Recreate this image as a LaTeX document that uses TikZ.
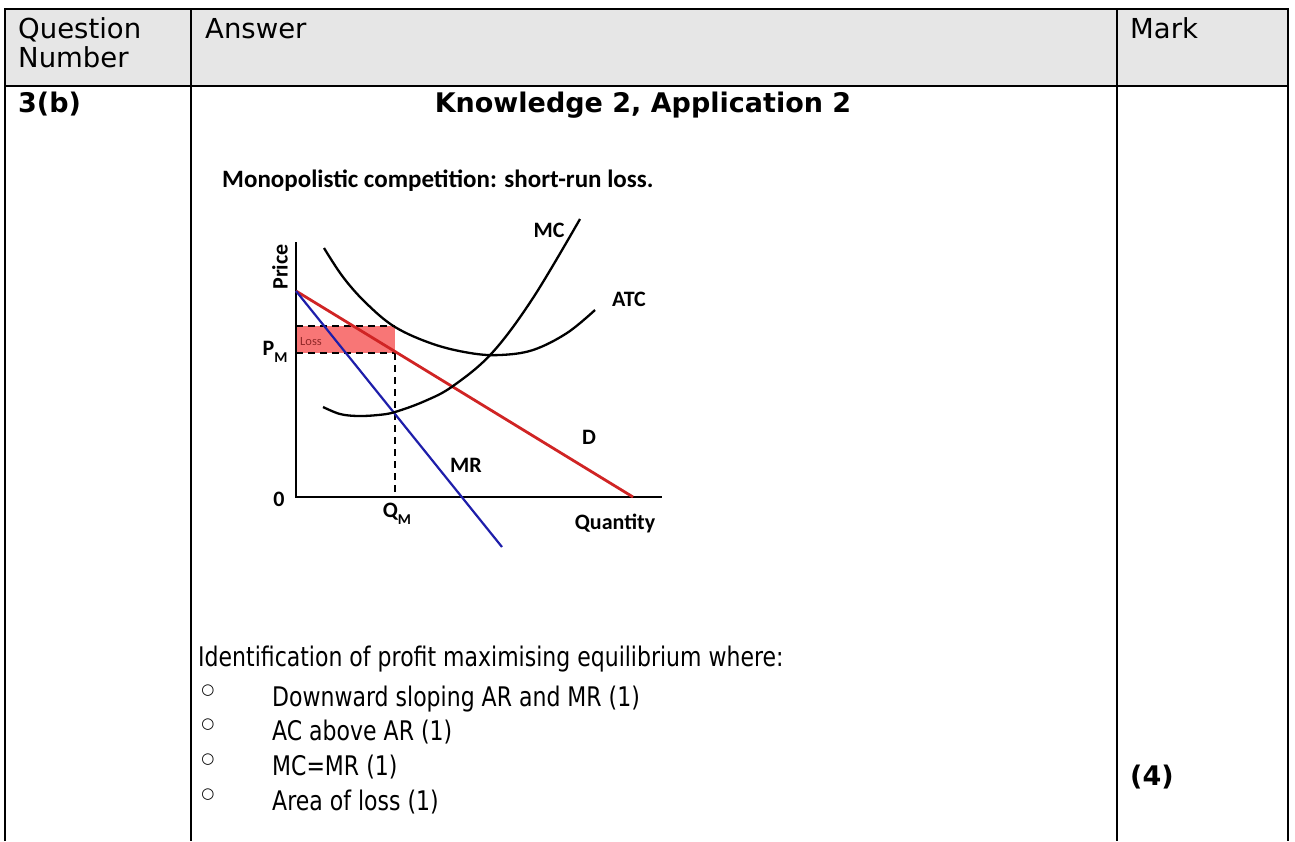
\documentclass[tikz,border=0pt]{standalone}
\usepackage{fontspec}
\setmainfont{DejaVu Sans}
\newfontfamily\bodyfont{DejaVu Sans}[FakeStretch=0.815]
\newfontfamily\chartfont{Carlito}
\definecolor{hdrgray}{RGB}{230,230,230}
\definecolor{dred}{RGB}{208,36,36}
\definecolor{dblue}{RGB}{30,30,170}
\definecolor{lossfill}{RGB}{248,118,118}
\definecolor{losstext}{RGB}{145,40,40}
\begin{document}
\begin{tikzpicture}[x=1pt,y=-1pt,
  tline/.style={line width=2pt},
  hdr/.style={anchor=base west,inner sep=0,font=\fontsize{27.5}{30}\selectfont},
  boldtxt/.style={inner sep=0,font=\fontsize{27}{30}\selectfont\bfseries},
  body/.style={anchor=base west,inner sep=0,font=\bodyfont\fontsize{27}{30}\selectfont},
  bul/.style={inner sep=0,font=\fontsize{15}{15}\selectfont},
  clab/.style={inner sep=0,font=\chartfont\bfseries\fontsize{22}{24}\selectfont},
  curve/.style={line width=2.3pt,black},
  guide/.style={line width=1.7pt,dash pattern=on 7pt off 5pt}]
\useasboundingbox (0,0) rectangle (1295,841);
% table
\fill[hdrgray] (5,9) rectangle (1288,86);
\draw[tline] (5,841) -- (5,9) -- (1288,9) -- (1288,841);
\draw[tline] (5,86) -- (1288,86);
\draw[tline] (191,9) -- (191,841);
\draw[tline] (1117,9) -- (1117,841);
\node[hdr] (q1) at (18,38) {Question};
\node[hdr] (q2) at (18,67) {Number};
\node[hdr] (ans) at (205,38) {Answer};
\node[hdr] (mark) at (1130,38) {Mark};
\node[boldtxt,anchor=base west] (qn) at (18,112) {3(b)};
\node[boldtxt,anchor=base] (kn) at (643,112) {Knowledge 2, Application 2};
% chart title
\node[anchor=base west,inner sep=0,font=\chartfont\bfseries\fontsize{25}{28}\selectfont] (title) at (222,187) {Monopolistic competition: short-run loss.};
% chart
\coordinate (ytop) at (296,242);
\coordinate (orig) at (296,497);
\coordinate (xend) at (662,497);
\coordinate (dstart) at (296,291);
\coordinate (dend) at (633,497);
\coordinate (mrend) at (502,547);
\coordinate (lt) at (296,326);
\coordinate (lb) at (296,353);
\coordinate (rt) at (395,326);
\coordinate (rb) at (395,353);
\coordinate (qm) at (395,497);
\fill[lossfill] (lt) rectangle (rb);
\node[inner sep=0,font=\chartfont\fontsize{12.5}{12.5}\selectfont,text=losstext,anchor=west] (loss) at (300,342) {Loss};
\draw[guide] (lt) -- (rt);
\draw[guide] (lb) -- (rb);
\draw[guide] (rb) -- (qm);
\draw[line width=2pt] (ytop) -- (orig) -- (xend);
\draw[dred,line width=2.8pt] (dstart) -- (dend);
\draw[dblue,line width=2.2pt] (dstart) -- (mrend);
\draw[curve] plot[smooth,tension=0.6] coordinates {(323,407) (340,414) (358,416) (378,415) (395,412) (425,401) (453,386) (492,353) (533,298) (580,219)};
\draw[curve] plot[smooth,tension=0.6] coordinates {(324,248) (343,277) (366,303) (395,327) (433,344) (470,353) (500,355) (533,350) (567,333) (595,310)};
% chart labels
\node[clab] (lmc) at (549,230) {MC};
\node[clab] (latc) at (629,299) {ATC};
\node[clab,rotate=90] (lprice) at (280,267) {Price};
\node[clab] (lpm) at (275,352) {P\raisebox{-0.3em}{\fontsize{15}{15}\selectfont M}};
\node[clab] (lzero) at (279,499) {0};
\node[clab] (lqm) at (397,514) {Q\raisebox{-0.3em}{\fontsize{15}{15}\selectfont M}};
\node[clab] (lquant) at (615,523) {Quantity};
\node[clab] (ld) at (589,437) {D};
\node[clab] (lmr) at (466,465) {MR};
% body text
\node[body] (intro) at (198,666) {Identification of profit maximising equilibrium where:};
\node[bul] (b1) at (208,691) {○};
\node[bul] (b2) at (208,725) {○};
\node[bul] (b3) at (208,760) {○};
\node[bul] (b4) at (208,795) {○};
\node[body] (t1) at (272,706) {Downward sloping AR and MR (1)};
\node[body] (t2) at (272,740) {AC above AR (1)};
\node[body] (t3) at (272,775) {MC=MR (1)};
\node[body] (t4) at (272,810) {Area of loss (1)};
\node[boldtxt,anchor=base west] (m4) at (1130,785) {(4)};
\end{tikzpicture}
\end{document}
